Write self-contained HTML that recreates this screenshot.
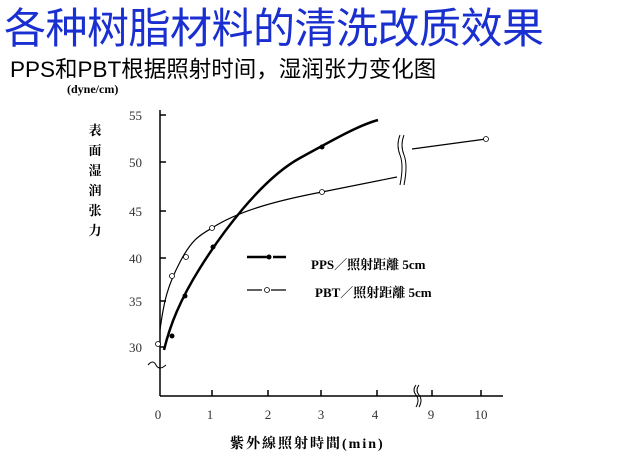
<!DOCTYPE html>
<html><head><meta charset="utf-8"><style>
body{margin:0;width:640px;height:463px;background:#fff;overflow:hidden;position:relative;font-family:"Liberation Serif","Noto Serif CJK SC",serif}
.t{position:absolute;white-space:nowrap}
</style></head><body>
<div class="t" style="left:4px;top:-5px;font-size:42px;color:#1a2fd0;font-family:'Liberation Sans','Noto Sans CJK SC',sans-serif;letter-spacing:-0.5px">各种树脂材料的清洗改质效果</div>
<div class="t" style="left:10px;top:52px;font-size:22.5px;color:#000;font-family:'Liberation Sans','Noto Sans CJK SC',sans-serif">PPS和PBT根据照射时间，湿润张力变化图</div>
<svg width="640" height="463" style="position:absolute;left:0;top:0" font-family="Liberation Serif, Noto Serif CJK SC, serif">
<text x="67" y="93" font-size="12" font-weight="bold">(dyne/cm)</text>
<g font-size="13" font-weight="bold" text-anchor="middle">
<text x="95" y="135">表</text><text x="95" y="155">面</text><text x="95" y="175">湿</text><text x="95" y="195">润</text><text x="95" y="215">张</text><text x="95" y="235">力</text></g>
<g font-size="13" fill="#333" text-anchor="end">
<text x="142" y="120">55</text><text x="142" y="167">50</text><text x="142" y="216">45</text><text x="142" y="263">40</text><text x="142" y="306">35</text><text x="142" y="352">30</text></g>
<g stroke="#000" stroke-width="1.5" fill="none">
<line x1="160" y1="110" x2="160" y2="396"/>
<line x1="160" y1="396" x2="503" y2="396"/>
<path d="M160 115h6M160 162h6M160 211h6M160 258h6M160 301h6M160 347h6"/>
<path d="M212 396v-6M268 396v-6M321 396v-6M377 396v-6M432 396v-6M481 396v-6"/>
<path d="M148 365q5-6 8 0t10 0" stroke-width="1"/>
<path d="M416 385q-4 5 0 10t0 12" stroke-width="1"/><path d="M419 385q-4 5 0 10t0 12" stroke-width="1"/>
<path d="M400 135q-4 10 0 20t0 30M404 135q-4 10 0 20t0 30" stroke-width="1"/>
<path d="M164 350C170 325 180 300 200 268S260 180 300 158S360 125 378 120" stroke-width="2.5"/>
<path d="M160 330C164 300 168 285 180 262S200 235 212 228C240 210 280 200 322 192L397 177" stroke-width="1.2"/>
<path d="M412 149L486 139" stroke-width="1.2"/>
<path d="M247 257h20M273 257h13" stroke-width="2.5"/>
<path d="M247 290h15M271 290h15" stroke-width="1.2"/>
</g>
<g fill="#000"><circle cx="172" cy="336" r="2.5"/><circle cx="185" cy="296" r="2.5"/><circle cx="213" cy="247" r="2.5"/><circle cx="322" cy="147" r="2.5"/><circle cx="269" cy="257" r="2.5"/></g>
<g fill="#fff" stroke="#000" stroke-width="0.8"><circle cx="158" cy="344" r="2.5"/><circle cx="172" cy="276" r="2.5"/><circle cx="186" cy="257" r="2.5"/><circle cx="212" cy="228" r="2.5"/><circle cx="322" cy="192" r="2.5"/><circle cx="486" cy="139" r="2.5"/><circle cx="267" cy="290" r="2.5"/></g>
<g font-size="13" font-weight="bold"><text x="311" y="269">PPS／照射距離 5cm</text><text x="315" y="297">PBT／照射距離 5cm</text></g>
<g font-size="13" fill="#333" text-anchor="middle">
<text x="158" y="419">0</text><text x="210" y="419">1</text><text x="268" y="419">2</text><text x="321" y="419">3</text><text x="375" y="419">4</text><text x="431" y="419">9</text><text x="481" y="419">10</text></g>
<text x="230" y="448" font-size="14" font-weight="bold" letter-spacing="2">紫外線照射時間(min)</text>
</svg>
</body></html>
